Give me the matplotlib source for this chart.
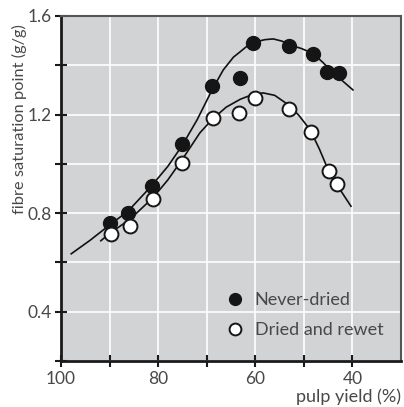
import matplotlib.pyplot as plt

# measured points
never_x = [89.9, 86.2, 81.3, 75.1, 68.9, 63.1, 60.5, 53.0, 48.1, 45.2, 42.7]
never_y = [0.761, 0.801, 0.911, 1.081, 1.316, 1.349, 1.491, 1.478, 1.446, 1.373, 1.369]

rewet_x = [89.7, 85.8, 81.0, 75.1, 68.7, 63.3, 60.0, 53.0, 48.5, 44.8, 43.2]
rewet_y = [0.716, 0.749, 0.858, 1.004, 1.187, 1.207, 1.268, 1.223, 1.130, 0.972, 0.919]

# fitted curves
never_fit_x = [97.9, 94.0, 90.0, 86.2, 81.3, 78.0, 75.1, 72.0, 68.9, 66.6, 64.5, 63.1,
               61.8, 60.0, 58.0, 56.3, 54.5, 52.8, 50.5, 48.1, 46.0, 44.0, 42.0, 39.9]
never_fit_y = [0.635, 0.690, 0.752, 0.808, 0.912, 0.990, 1.073, 1.178, 1.300, 1.381, 1.433, 1.455,
               1.476, 1.495, 1.504, 1.507, 1.498, 1.482, 1.468, 1.448, 1.410, 1.369, 1.336, 1.300]

rewet_fit_x = [91.8, 89.7, 85.8, 81.0, 78.0, 75.1, 71.4, 68.9, 66.0, 63.1, 60.5, 58.4,
               56.0, 53.0, 51.0, 48.7, 46.8, 45.0, 43.2, 41.7, 40.3]
rewet_fit_y = [0.688, 0.722, 0.775, 0.864, 0.935, 1.016, 1.126, 1.180, 1.230, 1.262, 1.282, 1.288,
               1.278, 1.237, 1.196, 1.138, 1.060, 0.976, 0.915, 0.870, 0.828]

major_x = [100, 80, 60, 40]
minor_x = [90, 70, 50]
y_ticks = [0.2, 0.4, 0.6, 0.8, 1.0, 1.2, 1.4, 1.6]
y_labels = ["", "0.4", "", "0.8", "", "1.2", "", "1.6"]

plt.rcParams['font.family'] = ['Lato', 'DejaVu Sans']
txt = '#484848'

fig = plt.figure(figsize=(4.04, 4.07), dpi=100)
ax = fig.add_axes([0.151, 0.113, 0.8416, 0.8477])
ax.set_facecolor('#d2d3d5')

ax.plot(never_fit_x, never_fit_y, color='#111111', lw=1.2, zorder=3)
ax.plot(rewet_fit_x, rewet_fit_y, color='#111111', lw=1.2, zorder=3)
ax.plot(never_x, never_y, 'o', ms=10, mfc='#151515', mec='#151515', mew=1.0,
        zorder=4, label='Never-dried')
ax.plot(rewet_x, rewet_y, 'o', ms=10, mfc='white', mec='#151515', mew=1.4,
        zorder=4, label='Dried and rewet')

ax.set_xlim(100, 30)
ax.set_ylim(0.2, 1.6)
ax.set_xticks(major_x)
ax.set_xticks(minor_x, minor=True)
ax.set_yticks(y_ticks)
ax.set_yticklabels(y_labels)

ax.grid(True, which='both', color='white', lw=1.2)
ax.set_axisbelow(True)
ax.tick_params(axis='both', which='both', direction='inout', length=8, width=1.5,
               color='#1a1a1a', labelsize=12.5, labelcolor=txt, pad=3)

for side in ['left', 'bottom']:
    ax.spines[side].set_linewidth(2.0)
    ax.spines[side].set_color('#1a1a1a')
for side in ['top', 'right']:
    ax.spines[side].set_linewidth(1.5)
    ax.spines[side].set_color('#555555')

ax.set_ylabel('fibre saturation point (g/g)', fontsize=11.8, color=txt)
ax.yaxis.set_label_coords(-0.1, 0.70)
ax.set_xlabel('pulp yield (%)', fontsize=13, color=txt, loc='right', labelpad=1)

leg = ax.legend(loc='lower right', frameon=False, fontsize=13, handletextpad=0.1,
                borderaxespad=0.3, labelspacing=0.75, markerscale=0.85,
                bbox_to_anchor=(0.985, 0.03))
for t in leg.get_texts():
    t.set_color(txt)

fig.savefig('out.png', dpi=100)
